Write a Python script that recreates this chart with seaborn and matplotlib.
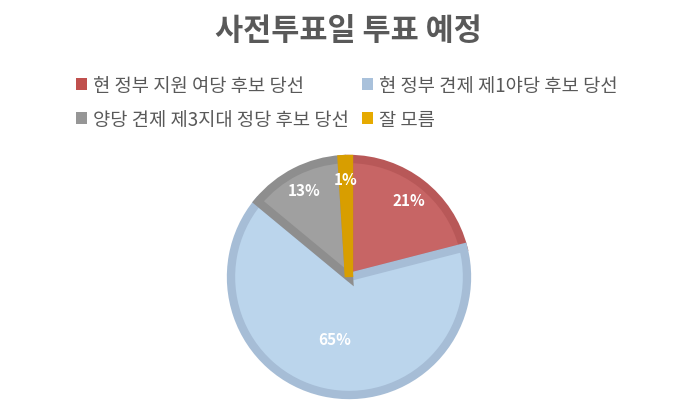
import seaborn as sns
import matplotlib.pyplot as plt
from matplotlib.patches import Patch

# 사전투표일 투표 예정 data
labels = ['현 정부 지원 여당 후보 당선', '현 정부 견제 제1야당 후보 당선',
          '양당 견제 제3지대 정당 후보 당선', '잘 모름']
shares = [21, 65, 13, 1]

fill_colors = ['#C76565', '#BBD5EC', '#A0A0A0', '#E6AA00']
edge_colors = ['#B85858', '#A6BDD6', '#8E8E8E', '#D89E00']
legend_colors = ['#C0504D', '#A9C1DB', '#969696', '#E6AA00']

sns.set_theme(style="white")
plt.rcParams['font.family'] = ['Noto Sans CJK KR', 'DejaVu Sans']

fig = plt.figure(figsize=(6.97, 4.10), dpi=100)
ax = fig.add_axes([231 / 697, 14 / 410, 236 / 697, 236 / 410])

wedges, texts, autotexts = ax.pie(
    shares,
    colors=fill_colors,
    startangle=90,
    counterclock=False,
    autopct='%d%%',
    pctdistance=0.83,
    wedgeprops=dict(linewidth=6),
    textprops=dict(color='white', fontsize=11, fontweight='bold'),
)
for w, ec in zip(wedges, edge_colors):
    w.set_edgecolor(ec)

# the big slice's label sits closer to the middle
x, y = autotexts[1].get_position()
autotexts[1].set_position((x * 0.65, y * 0.65))

ax.set_aspect('equal')
ax.set_xlim(-1.0, 1.0)
ax.set_ylim(-1.0, 1.0)

fig.text(0.5, 0.925, '사전투표일 투표 예정', ha='center', va='center',
         fontsize=22, fontweight='bold', color='#595959')

# legend filled row by row
handles = [Patch(facecolor=c, edgecolor='none') for c in legend_colors]
order = [0, 2, 1, 3]
fig.legend([handles[i] for i in order], [labels[i] for i in order],
           loc='upper left', bbox_to_anchor=(0.085, 0.857),
           ncol=2, frameon=False, fontsize=13.5, handlelength=0.6,
           handleheight=0.6, handletextpad=0.3, columnspacing=0.7,
           labelspacing=0.72, labelcolor='#595959')

plt.savefig('out.png', dpi=100)
